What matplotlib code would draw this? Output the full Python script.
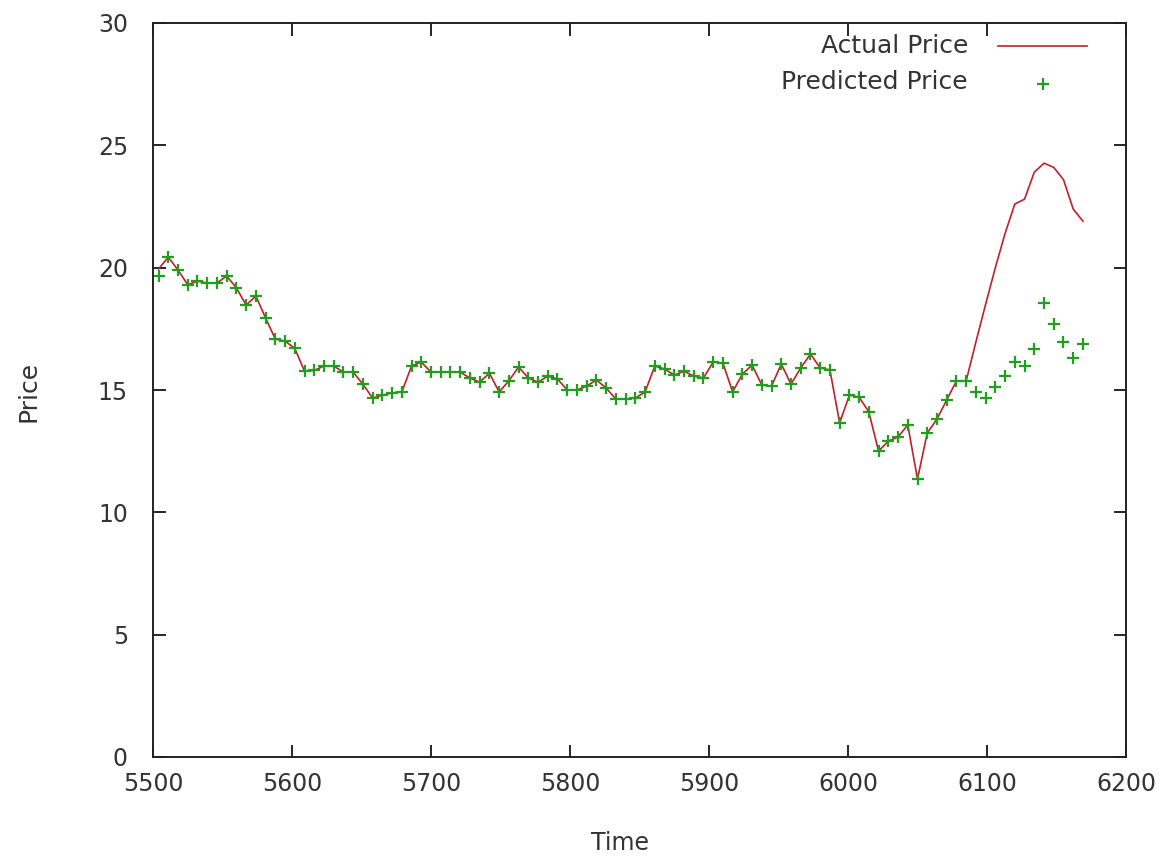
import numpy as np
import matplotlib
matplotlib.use("Agg")
import matplotlib.pyplot as plt

# time stamps of the samples (one every 7 steps)
time = np.arange(5504, 6170, 7)

predicted = [19.66, 20.43, 19.90, 19.30, 19.45, 19.37, 19.37, 19.66, 19.17, 18.47,
             18.84, 17.94, 17.08, 17.00, 16.70, 15.77, 15.80, 15.98, 15.98, 15.73,
             15.73, 15.24, 14.67, 14.79, 14.88, 14.92, 15.98, 16.14, 15.73, 15.73,
             15.73, 15.73, 15.49, 15.32, 15.69, 14.92, 15.37, 15.94, 15.49, 15.32,
             15.57, 15.45, 15.00, 15.00, 15.16, 15.41, 15.08, 14.63, 14.63, 14.67,
             14.92, 15.98, 15.86, 15.61, 15.77, 15.57, 15.49, 16.14, 16.10, 14.92,
             15.65, 16.02, 15.20, 15.16, 16.06, 15.24, 15.90, 16.47, 15.90, 15.82,
             13.65, 14.79, 14.71, 14.10, 12.50, 12.91, 13.08, 13.57, 11.36, 13.24,
             13.81, 14.59, 15.37, 15.37, 14.92, 14.67, 15.12, 15.57, 16.14, 15.98,
             16.67, 18.55, 17.70, 16.96, 16.31, 16.88]

actual = [19.95, 20.43, 19.90, 19.30, 19.45, 19.37, 19.37, 19.66, 19.17, 18.47,
          18.84, 17.94, 17.08, 17.00, 16.70, 15.77, 15.80, 15.98, 15.98, 15.73,
          15.73, 15.24, 14.67, 14.79, 14.88, 14.92, 15.98, 16.14, 15.73, 15.73,
          15.73, 15.73, 15.49, 15.32, 15.69, 14.92, 15.37, 15.94, 15.49, 15.32,
          15.57, 15.45, 15.00, 15.00, 15.16, 15.41, 15.08, 14.63, 14.63, 14.67,
          14.92, 15.98, 15.86, 15.61, 15.77, 15.57, 15.49, 16.14, 16.10, 14.92,
          15.65, 16.02, 15.20, 15.16, 16.06, 15.24, 15.90, 16.47, 15.90, 15.82,
          13.65, 14.79, 14.71, 14.10, 12.50, 12.91, 13.08, 13.57, 11.36, 13.24,
          13.81, 14.59, 15.37, 15.37, 16.96, 18.50, 20.00, 21.40, 22.60, 22.80,
          23.90, 24.27, 24.10, 23.60, 22.40, 21.90]

red = "#c0202a"
green = "#1f9e1f"
txt = "#333333"

fig = plt.figure(figsize=(11.69, 8.57), dpi=100)
ax = fig.add_axes([153 / 1169, 100 / 857, 973 / 1169, 734 / 857])

ax.plot(time, actual, color=red, lw=1.2)
ax.plot(time, predicted, ls="none", marker="+", ms=9, mew=1.6, color=green)

ax.set_xlim(5500, 6200)
ax.set_ylim(0, 30)
ax.set_xticks(np.arange(5500, 6201, 100))
ax.set_yticks(np.arange(0, 31, 5))
ax.tick_params(direction="in", length=9, width=1.2, top=True, right=True,
               labelsize=17, labelcolor=txt)
ax.tick_params(axis="y", pad=18)
ax.tick_params(axis="x", pad=11)
for s in ax.spines.values():
    s.set_linewidth(1.4)
    s.set_color("#222222")

# axis titles placed where gnuplot put them
fig.text(620 / 1169, 1 - 843 / 857, "Time", ha="center", va="center",
         fontsize=17, color=txt)
fig.text(28 / 1169, 1 - 391 / 857, "Price", ha="center", va="center",
         rotation=90, fontsize=18, color=txt)

# gnuplot style key, text right aligned left of the sample
ax.text(0.8376, 0.9687, "Actual Price", transform=ax.transAxes, ha="right",
        va="center", fontsize=18, color=txt)
ax.text(0.8376, 0.9196, "Predicted Price", transform=ax.transAxes, ha="right",
        va="center", fontsize=18, color=txt)
ax.plot([0.8684, 0.9599], [0.9687, 0.9687], transform=ax.transAxes, color=red, lw=1.2)
ax.plot([0.9147], [0.9170], transform=ax.transAxes, ls="none", marker="+",
        ms=9, mew=1.6, color=green)

fig.savefig("out.png", dpi=100)
